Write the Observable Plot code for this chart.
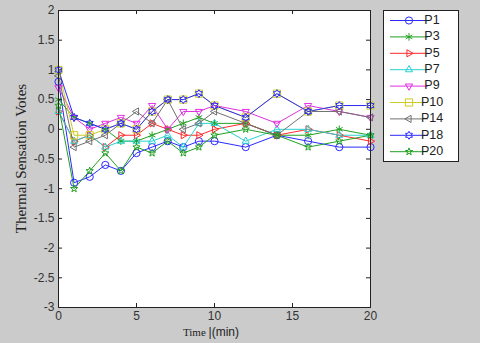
<!DOCTYPE html>
<html><head><meta charset="utf-8">
<script src="https://cdn.jsdelivr.net/npm/d3@7"></script>
<script src="https://cdn.jsdelivr.net/npm/@observablehq/plot@0.6"></script>
<style>
html,body{margin:0;padding:0;background:#cbcbcb;overflow:hidden;}
</style></head><body><div id="chart"></div>
<script>
const times = [0,1,2,3,4,5,6,7,8,9,10,12,14,16,18,20];
const P1  = [0.8,-0.9,-0.8,-0.6,-0.7,-0.4,-0.3,-0.2,-0.3,-0.2,-0.2,-0.3,-0.1,-0.2,-0.3,-0.3];
const P3  = [0.5, 0.2, 0.1, 0.0,-0.2,-0.2,-0.1, 0.0, 0.1, 0.2, 0.1, 0.1,-0.1,-0.1, 0.0,-0.1];
const P5  = [0.3,-0.2,-0.1,-0.3,-0.1,-0.1, 0.1, 0.0,-0.1,-0.1, 0.0, 0.1,-0.1, 0.0,-0.1,-0.2];
const P7  = [0.3,-0.2,-0.1,-0.3,-0.2,-0.2,-0.2,-0.1,-0.3, 0.1, 0.1,-0.2, 0.0, 0.0,-0.1,-0.1];
const P9  = [0.7, 0.2, 0.0, 0.1, 0.2, 0.1, 0.4, 0.0, 0.3, 0.3, 0.4, 0.3, 0.1, 0.4, 0.3, 0.2];
const P10 = [1.0,-0.1,-0.1, 0.0, 0.1, 0.0, 0.3, 0.5, 0.5, 0.6, 0.4, 0.2, 0.6, 0.3, 0.4, 0.4];
const P14 = [0.9,-0.3,-0.2,-0.1, 0.1, 0.3, 0.1, 0.5, 0.0, 0.1, 0.3, 0.1,-0.1, 0.3, 0.3, 0.2];
const P18 = [1.0, 0.2, 0.1, 0.0, 0.1, 0.0, 0.3, 0.5, 0.5, 0.6, 0.4, 0.2, 0.6, 0.3, 0.4, 0.4];
const P20 = [0.4,-1.0,-0.7,-0.4,-0.7,-0.3,-0.4,-0.2,-0.4,-0.3,-0.1, 0.0,-0.1,-0.3,-0.2,-0.1];

const seriesNames  = ["P1","P3","P5","P7","P9","P10","P14","P18","P20"];
const seriesValues = [P1,P3,P5,P7,P9,P10,P14,P18,P20];
const seriesColors = ["#2a2aff","#22a022","#ff2a2a","#2ad0d0","#e030e0","#cccc20","#707070","#2a2aff","#22a022"];
const xTicks = [0,5,10,15,20];
const yTicks = [-3,-2.5,-2,-1.5,-1,-0.5,0,0.5,1,1.5,2];

// custom MATLAB-like marker shapes
function tri(angle){
  return {draw(ctx,size){
    const r = Math.sqrt(size/Math.PI)*1.15;
    for(let k=0;k<3;k++){
      const a = angle + k*2*Math.PI/3;
      const x = r*Math.cos(a), y = r*Math.sin(a);
      if(k===0) ctx.moveTo(x,y); else ctx.lineTo(x,y);
    }
    ctx.closePath();
  }};
}
function starN(n, scale, inner){
  return {draw(ctx,size){
    const r = Math.sqrt(size/Math.PI)*scale, ri = r*inner;
    for(let k=0;k<2*n;k++){
      const a = -Math.PI/2 + k*Math.PI/n, rr = k%2? ri: r;
      const x = rr*Math.cos(a), y = rr*Math.sin(a);
      if(k===0) ctx.moveTo(x,y); else ctx.lineTo(x,y);
    }
    ctx.closePath();
  }};
}
const triRight = tri(0), triLeft = tri(Math.PI), triUp = tri(-Math.PI/2), triDown = tri(Math.PI/2);
const hexagram = starN(6, 1.1, 0.58);
const pentagram = starN(5, 1.05, 0.42);
const squareSym = {draw(ctx,size){const r=Math.sqrt(size/Math.PI)*1.0; ctx.rect(-r,-r,2*r,2*r);}};
const seriesSymbols = [d3.symbolCircle, d3.symbolAsterisk, triRight, triUp, triDown, squareSym, triLeft, hexagram, pentagram];

const data = [];
seriesNames.forEach((n,i)=> times.forEach((t,j)=> data.push({series:n, t, v: seriesValues[i][j]})));

const W = 480, H = 343, mL = 58, mR = 110, mT = 10, mB = 36;
const pw = W-mL-mR, ph = H-mT-mB;

const chart = Plot.plot({
  width: W, height: H,
  marginLeft: mL, marginRight: mR, marginTop: mT, marginBottom: mB,
  style: {background:"#cbcbcb", fontFamily:"'Liberation Sans', Arial, sans-serif", fontSize:"12px", color:"#333"},
  x: {domain:[0,20], label:null},
  y: {domain:[-3,2], label:null},
  color: {domain: seriesNames, range: seriesColors},
  symbol: {domain: seriesNames, range: seriesSymbols},
  marks: [
    Plot.frame({fill:"white", stroke:"none"}),
    Plot.line(data, {x:"t", y:"v", z:"series", stroke:"series", strokeWidth:1}),
    Plot.dot(data, {x:"t", y:"v", symbol:"series", stroke:"series", fill:"none", r:3.6, strokeWidth:1}),
    Plot.axisX(xTicks, {tickSize:0, tickPadding:4, tickFormat:d=>String(d), fill:"#333", fontSize:12}),
    Plot.axisY(yTicks, {tickSize:0, tickPadding:4, tickFormat:d=>String(d), fill:"#333", fontSize:12}),
    Plot.tickX(xTicks, {x:d=>d, insetTop: ph-4, stroke:"#222"}),
    Plot.tickX(xTicks, {x:d=>d, insetBottom: ph-4, stroke:"#222"}),
    Plot.tickY(yTicks, {y:d=>d, insetRight: pw-4, stroke:"#222"}),
    Plot.tickY(yTicks, {y:d=>d, insetLeft: pw-4, stroke:"#222"}),
    Plot.frame({stroke:"#222", strokeWidth:1})
  ]
});
document.getElementById("chart").appendChild(chart);

const svg = d3.select(chart);
// y label
svg.append("text")
  .attr("transform", `translate(23,${mT+ph/2}) rotate(-90)`)
  .attr("text-anchor","middle").attr("dominant-baseline","middle")
  .attr("font-family","'Liberation Serif', 'Times New Roman', serif")
  .attr("font-size",15).attr("fill","#222")
  .text("Thermal Sensation Votes");
// x label
const xl = svg.append("text")
  .attr("x", 211).attr("y", 333)
  .attr("text-anchor","middle").attr("dominant-baseline","middle").attr("fill","#222");
xl.append("tspan").attr("font-family","'Liberation Serif', serif").attr("font-size",11).text("Time ");
xl.append("tspan").attr("font-family","'Liberation Sans', sans-serif").attr("font-size",12).text("|(min)");

// legend
const lg = svg.append("g");
lg.append("rect").attr("x",383.5).attr("y",10.5).attr("width",75).attr("height",151)
  .attr("fill","white").attr("stroke","#222");
seriesNames.forEach((n,i)=>{
  const y = 20.5 + i*16.4;
  lg.append("line").attr("x1",390).attr("x2",428).attr("y1",y).attr("y2",y)
    .attr("stroke",seriesColors[i]).attr("stroke-width",1);
  lg.append("path").attr("transform",`translate(409,${y})`)
    .attr("d", d3.symbol().type(seriesSymbols[i]).size(Math.PI*3.6*3.6)())
    .attr("fill","none").attr("stroke",seriesColors[i]);
  lg.append("text").attr("x",432).attr("y",y).attr("dominant-baseline","middle")
    .attr("font-family","'Liberation Sans', Arial, sans-serif").attr("font-size",12.5).attr("fill","#222")
    .text(n);
});
</script></body></html>
